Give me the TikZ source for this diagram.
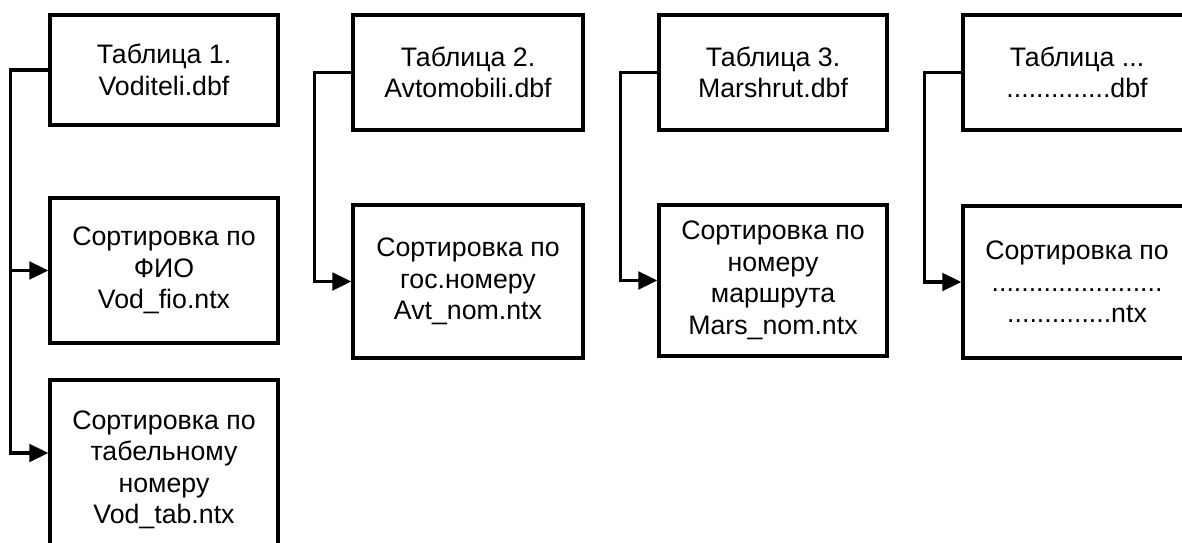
\documentclass[tikz,border=0pt]{standalone}
\usepackage{fontspec}
\setmainfont{Liberation Sans}
\usetikzlibrary{arrows.meta}
\tikzset{
  tbl/.style={draw, line width=2.3pt, minimum width=5.7cm, align=center,
    inner sep=0pt, font=\fontsize{19pt}{22.4pt}\selectfont},
  link/.style={line width=2.3pt, -{Triangle[length=13.5pt,width=12.5pt]}}
}
\begin{document}
\begin{tikzpicture}[x=0.025cm,y=-0.025cm]
  \clip (0,0) rectangle (1182,543);
  % tables
  \node[tbl, minimum height=2.75cm]  (tab1) at (164,70)   {Таблица 1.\\Voditeli.dbf};
  \node[tbl, minimum height=2.875cm, minimum width=5.75cm] (tab2) at (468,72.5) {Таблица 2.\\Avtomobili.dbf};
  \node[tbl, minimum height=2.875cm] (tab3) at (773,72.5) {Таблица 3.\\Marshrut.dbf};
  \node[tbl, minimum height=2.875cm] (tab4) at (1077,72.5) {Таблица ...\\..............dbf};
  % index files
  \node[tbl, minimum height=3.625cm] (srt1) at (164,270.5) {Сортировка по\\ФИО\\Vod\_fio.ntx};
  \node[tbl, minimum height=4.5cm]   (srt1b) at (164,470) {Сортировка по\\табельному\\номеру\\Vod\_tab.ntx};
  \node[tbl, minimum height=3.825cm, minimum width=5.75cm] (srt2) at (468,281.5) {Сортировка по\\гос.номеру\\Avt\_nom.ntx};
  \node[tbl, minimum height=3.775cm] (srt3) at (773,280.5) {Сортировка по\\номеру\\маршрута\\Mars\_nom.ntx};
  \node[tbl, minimum height=3.8cm]   (srt4) at (1077,282) {Сортировка по\\.......................\\..............ntx};
  % connectors
  \draw[link] (tab1.west) -- ++(-38,0) |- (srt1.west);
  \draw[link] (tab1.west) -- ++(-38,0) |- ([yshift=0.425cm]srt1b.west);
  \foreach \i in {2,3,4}
    \draw[link] (tab\i.west) -- ++(-37,0) |- (srt\i.west);
\end{tikzpicture}
\end{document}
